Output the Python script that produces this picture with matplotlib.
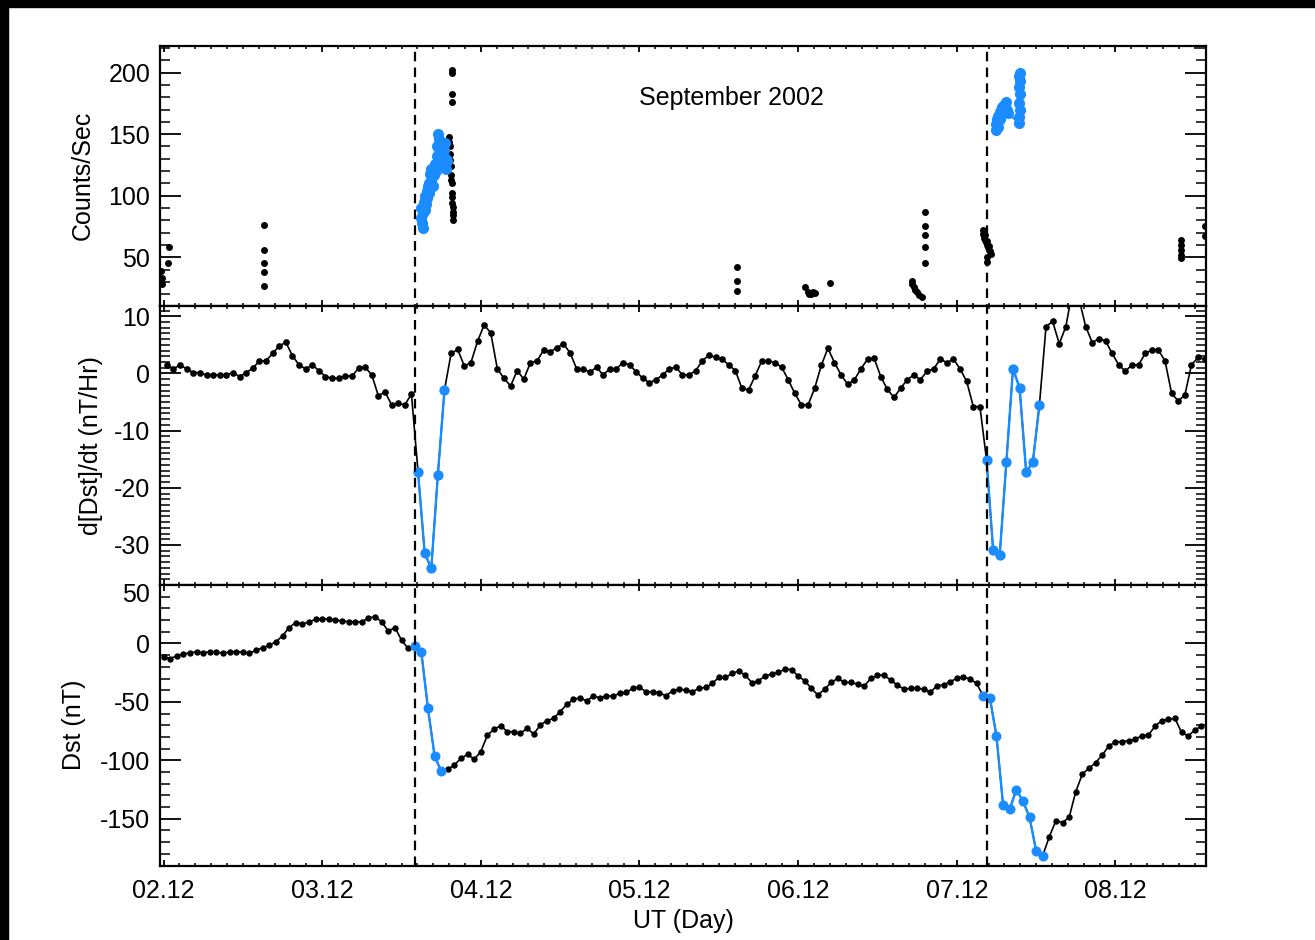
import numpy as np
import matplotlib
matplotlib.use('Agg')
import matplotlib.pyplot as plt
from matplotlib.ticker import MultipleLocator, FixedLocator
from matplotlib.lines import Line2D
from matplotlib.patches import Rectangle
from matplotlib.transforms import blended_transform_factory, ScaledTranslation

plt.rcParams['font.family'] = ['Liberation Sans', 'DejaVu Sans']
plt.rcParams['axes.unicode_minus'] = False

# ---------------- data (time in hours after 02 Sep 12 UT) ----------------
day_ticks = [0, 24, 48, 72, 96, 120, 144]
day_labels = ['02.12', '03.12', '04.12', '05.12', '06.12', '07.12', '08.12']
onsets = [38.1, 124.6]

dst = [-12.0, -13.0, -10.6, -9.1, -8.0, -7.2, -8.0, -7.2, -7.2, -8.6,
       -7.2, -7.2, -7.2, -8.6, -5.7, -3.7, -1.5, 1.4, 6.5, 13.6,
       17.9, 16.5, 18.5, 20.5, 21.3, 20.5, 19.9, 19.3, 18.5, 18.5,
       18.5, 21.9, 22.8, 18.5, 10.5, 13.6, 2.8, -4.3, -2.3, -7.4,
       -55.6, -96.1, -109.4, -107.7, -104.0, -98.3, -94.9, -99.2, -92.6, -78.4,
       -73.5, -70.4, -75.5, -75.5, -76.9, -72.6, -77.5, -69.8, -66.1, -64.1,
       -58.4, -52.2, -47.9, -46.4, -49.3, -45.0, -46.5, -45.0, -45.0, -42.8,
       -41.9, -38.5, -37.6, -41.3, -41.3, -42.2, -44.8, -40.5, -39.1, -39.9,
       -41.3, -38.5, -37.6, -34.2, -29.1, -29.1, -25.7, -23.7, -27.1, -33.6,
       -31.9, -27.9, -26.2, -24.8, -22.0, -22.3, -27.9, -31.9, -38.5, -44.2,
       -39.1, -33.4, -29.9, -33.4, -33.4, -34.8, -36.5, -29.9, -27.1, -27.1,
       -31.4, -35.6, -39.1, -38.5, -38.5, -39.3, -41.9, -36.2, -35.6, -32.8,
       -29.9, -28.5, -30.5, -34.2, -45.0, -46.5, -79.0, -138.2, -141.8, -125.4,
       -134.8, -148.7, -177.3, -181.5, -165.3, -151.6, -153.3, -148.7, -126.8, -111.7,
       -106.9, -102.0, -95.5, -87.8, -84.1, -84.1, -83.2, -82.1, -78.9, -78.4,
       -70.7, -66.1, -65.0, -64.1, -76.1, -79.2, -74.1, -70.7]

ddst = [1.5, 0.8, 1.5, 0.8, 0.15, 0.15, -0.26, -0.26, -0.26, -0.26,
        0.15, -0.55, 0.15, 0.9, 2.2, 2.2, 3.5, 4.8, 5.45, 3.1,
        1.5, 0.8, 1.5, 0.5, -0.55, -0.85, -0.85, -0.45, -0.45, 0.9,
        1.1, -0.26, -3.9, -3.2, -5.5, -5.2, -5.5, -3.6, -17.2, -31.4,
        -34.1, -17.7, -2.9, 3.5, 4.2, 1.3, 1.9, 5.6, 8.5, 7.1,
        0.8, -0.85, -2.2, 0.5, -1.0, 1.9, 2.2, 4.1, 3.8, 4.5,
        5.2, 3.6, 0.8, 0.8, 0.2, 1.1, -0.26, 0.8, 0.8, 1.9,
        1.5, 0.3, -0.85, -1.6, -1.1, -0.26, 0.8, 1.1, -0.26, -0.26,
        0.5, 2.2, 3.2, 2.8, 2.5, 1.5, 0.5, -2.6, -2.9, -0.4,
        2.2, 2.2, 1.9, 1.1, -1.1, -3.5, -5.5, -5.5, -2.6, 1.4,
        4.4, 1.9, -0.26, -1.9, -1.1, 0.8, 2.5, 2.65, -0.55, -2.8,
        -4.2, -2.6, -1.1, -0.26, -1.1, 0.4, 0.8, 2.5, 1.9, 2.5,
        0.8, -1.4, -5.8, -5.8, -15.1, -30.9, -31.7, -15.5, 0.8, -2.5,
        -17.3, -15.5, -5.5, 8.2, 9.1, 5.2, 8.2, 14.5, 13.0, 8.2,
        5.4, 6.1, 5.7, 3.5, 1.5, 0.4, 1.5, 1.5, 3.5, 4.1,
        4.1, 2.2, -3.5, -4.8, -3.8, 1.5, 2.8, 2.5]

dst_hours = np.arange(len(dst))
ddst_hours = np.arange(len(ddst)) + 0.5
dst_blue = [(38, 43), (124, 134)]     # index ranges (start, stop)
ddst_blue = [(38, 43), (124, 133)]

# counting-rate data (black: ordinary, blue: storm main phase)
cnt_t = [-0.4, -0.3, -0.3, 0.7, 0.9,
         15.2, 15.2, 15.2, 15.2, 15.2,
         43.2, 43.25, 43.3, 43.35, 43.4, 43.45, 43.5, 43.55, 43.6, 43.65,
         43.7, 43.7, 43.75, 43.75, 43.8, 43.8, 43.65, 43.65, 43.7, 43.7,
         86.7, 86.7, 86.7,
         97.1, 97.5, 97.7, 98.0, 98.3, 98.6, 100.8,
         113.2, 113.3, 113.5, 113.7, 114.0, 114.3, 114.7,
         115.2, 115.2, 115.2, 115.2, 115.2,
         123.9, 124.0, 124.1, 124.2, 124.3, 124.4, 124.5, 124.6, 124.7, 124.8,
         124.9, 125.0, 125.1, 124.6, 124.5,
         153.9, 153.9, 153.9, 153.9, 153.9,
         157.6, 157.6]
cnt_v = [39, 33, 28, 45, 58,
         76, 56, 45.5, 38, 26.6,
         148, 144, 140, 134, 129, 124, 117, 113, 110, 102,
         99, 94, 91, 87, 84, 80, 202, 199.5, 183, 176,
         42.3, 30.7, 22.8,
         26, 22, 20.5, 20, 22, 21, 28.8,
         31, 28.5, 26, 23.5, 21.5, 19.5, 17.5,
         87, 75, 68, 58, 45,
         72, 69, 66, 68, 64, 62, 60, 63, 58, 56,
         59, 55, 53, 50, 46,
         64, 60, 56, 52, 49.6,
         75, 67]

blue1_t = [38.9, 39.0, 39.1, 39.2, 39.3, 39.4, 39.5, 39.6, 39.7, 39.8,
           39.9, 40.0, 40.1, 40.2, 40.3, 40.4, 40.5, 40.6, 40.7, 40.8,
           40.9, 41.0, 41.1, 41.2, 41.3, 41.4, 41.5, 41.6, 41.7, 41.8,
           41.9, 42.0, 42.1, 42.2, 42.3, 42.4, 42.5, 42.6, 42.7, 42.8, 42.9]
blue1_v = [82, 90, 78, 74, 86, 95, 88, 100, 93, 104,
           98, 108, 102, 110, 118, 112, 122, 115, 120, 108,
           117, 122, 126, 120, 132, 140, 150, 146, 138, 130,
           142, 135, 126, 140, 132, 125, 137, 143, 130, 122, 128]

blue2_t = [125.9, 126.0, 126.1, 126.2, 126.3, 126.5, 126.6, 126.7, 126.9, 127.1,
           127.2, 127.4, 127.6, 127.8, 129.4, 129.45, 129.5, 129.45, 129.5, 129.45,
           129.5, 129.45, 129.5]
blue2_v = [153, 158, 162, 156, 165, 168, 162, 170, 172, 168,
           174, 176, 170, 167, 159, 164, 170, 175, 183, 188,
           193, 197, 200]

# ---------------- styling ----------------
BLUE = '#1a8cff'
FS = 18
W, H = 1315, 940
fig = plt.figure(figsize=(W / 100, H / 100), dpi=100)
fig.patch.set_facecolor('white')

left, right = 159.9 / W, 1206 / W
bounds = [(45.7, 305.7), (305.7, 585.0), (585.0, 865.5)]
axes = []
for top, bot in bounds:
    ax = fig.add_axes([left, 1 - bot / H, right - left, (bot - top) / H])
    axes.append(ax)
ax1, ax2, ax3 = axes

xlim = (-0.55, 157.7)
for ax in axes:
    ax.set_xlim(*xlim)
    ax.xaxis.set_major_locator(FixedLocator(day_ticks))
    ax.xaxis.set_minor_locator(MultipleLocator(2.4))
    for sp in ax.spines.values():
        sp.set_linewidth(1.6)
    ax.tick_params(which='both', direction='in', top=True, right=True,
                   labelsize=FS, pad=7, width=1.3)
    ax.tick_params(axis='y', which='major', length=15)
    ax.tick_params(axis='y', which='minor', length=7.5, width=1.1)
    ax.tick_params(axis='x', which='major', length=4.5)
    ax.tick_params(axis='x', which='minor', length=2.3, width=1.1)
    ax.tick_params(axis='x', labelbottom=False)

# Panel 1: counting rate
ax1.set_ylim(10.6, 221.9)
ax1.yaxis.set_major_locator(MultipleLocator(50))
ax1.yaxis.set_minor_locator(MultipleLocator(10))
ax1.plot(cnt_t, cnt_v, 'o', color='black', ms=5.0, mew=0, zorder=3)
for bt, bv in [(blue1_t, blue1_v), (blue2_t, blue2_v)]:
    ax1.plot(bt, bv, '-o', color=BLUE, ms=8.0, mew=0, lw=1.6, zorder=4)
ax1.set_ylabel('Counts/Sec', fontsize=FS, labelpad=10)
ax1.text(0.546, 0.80, 'September 2002', transform=ax1.transAxes,
         fontsize=FS, ha='center', va='center')

# Panel 2: d[Dst]/dt
ax2.set_ylim(-37.0, 11.85)
ax2.yaxis.set_major_locator(MultipleLocator(10))
ax2.yaxis.set_minor_locator(MultipleLocator(1))
ax2.plot(ddst_hours, ddst, '-o', color='black', ms=4.8, mew=0, lw=1.2, zorder=3)
for a, b in ddst_blue:
    ax2.plot(ddst_hours[a:b], ddst[a:b], '-o', color=BLUE, ms=7.4, mew=0,
             lw=1.7, zorder=4)
ax2.set_ylabel('d[Dst]/dt (nT/Hr)', fontsize=FS, labelpad=8)

# Panel 3: Dst
ax3.set_ylim(-190, 50)
ax3.yaxis.set_major_locator(MultipleLocator(50))
ax3.yaxis.set_minor_locator(MultipleLocator(10))
ax3.plot(dst_hours, dst, '-o', color='black', ms=4.6, mew=0, lw=1.2, zorder=3)
for a, b in dst_blue:
    ax3.plot(dst_hours[a:b], dst[a:b], '-o', color=BLUE, ms=7.2, mew=0,
             lw=1.7, zorder=4)
ax3.set_ylabel('Dst (nT)', fontsize=FS, labelpad=10)
ax3.tick_params(axis='x', labelbottom=True, pad=10)
ax3.set_xticklabels(day_labels)
ax3.set_xlabel('UT (Day)', fontsize=FS, labelpad=4)

# Vertical dashed onset lines spanning all panels
trans = blended_transform_factory(ax3.transData, fig.transFigure)
y_lo, y_hi = 1 - bounds[2][1] / H, 1 - bounds[0][0] / H
for x0 in onsets:
    fig.lines.append(Line2D([x0, x0], [y_lo, y_hi], transform=trans,
                            color='black', lw=1.6,
                            linestyle=(0, (4.3, 2.8)), zorder=5))

# dark frame strips seen at the top and left of the reference image
fig.patches.append(Rectangle((0, 1 - 7 / H), 1, 7 / H, transform=fig.transFigure,
                             color='black', zorder=-1))
fig.patches.append(Rectangle((0, 0), 8 / W, 1, transform=fig.transFigure,
                             color='black', zorder=-1))

# the top "50" label of the Dst panel sits just below the panel edge
fig.canvas.draw()
shift = ScaledTranslation(0, -0.07, fig.dpi_scale_trans)
for t in ax3.yaxis.get_major_ticks():
    if abs(t.get_loc() - 50) < 1e-6:
        t.label1.set_transform(t.label1.get_transform() + shift)

fig.savefig('out.png', dpi=100, facecolor='white')
